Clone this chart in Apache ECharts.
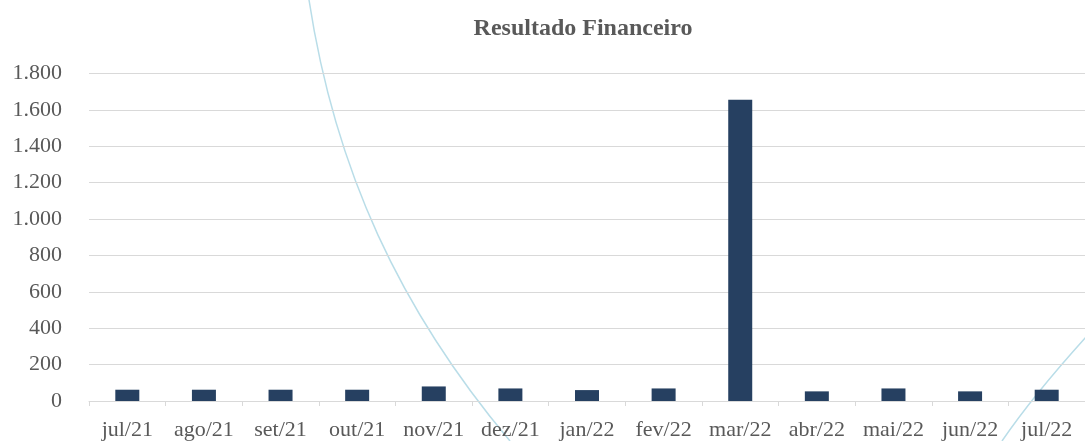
<!DOCTYPE html>
<html>
<head>
<meta charset="utf-8">
<script src="https://cdn.jsdelivr.net/npm/echarts@6/dist/echarts.min.js"></script>
<style>
  html, body { margin: 0; padding: 0; background: #fff; }
  #container { width: 1085px; height: 441px; }
</style>
</head>
<body>
<div id="container"></div>
<script>
// meses e valores do resultado financeiro
var meses = ['jul/21', 'ago/21', 'set/21', 'out/21', 'nov/21', 'dez/21', 'jan/22',
             'fev/22', 'mar/22', 'abr/22', 'mai/22', 'jun/22', 'jul/22'];
var resultado = [62, 62, 62, 62, 80, 69, 60, 69, 1656, 53, 69, 53, 62];

var dom = document.getElementById('container');
var myChart = echarts.init(dom);

var fonte = '"Liberation Serif", "DejaVu Serif", serif';

function milhar(v) {
    return String(v).replace(/\B(?=(\d{3})+(?!\d))/g, '.');
}

var option = {
    backgroundColor: '#fff',
    animation: false,
    title: {
        text: 'Resultado Financeiro',
        left: 578,
        textAlign: 'center',
        top: 12,
        textStyle: {
            color: '#595959',
            fontFamily: fonte,
            fontWeight: 'bold',
            fontSize: 24
        }
    },
    grid: {
        left: 89,
        width: 1002,
        top: 73.5,
        height: 329.2
    },
    xAxis: {
        type: 'category',
        data: meses,
        axisLine: { lineStyle: { color: '#d9d9d9', width: 1 } },
        axisTick: { show: true, length: 5, lineStyle: { color: '#d9d9d9' } },
        axisLabel: {
            color: '#595959',
            fontFamily: fonte,
            fontSize: 22,
            margin: 18,
            interval: 0
        }
    },
    yAxis: {
        type: 'value',
        min: 0,
        max: 1800,
        interval: 200,
        axisLine: { show: false },
        axisTick: { show: false },
        splitLine: { lineStyle: { color: '#d9d9d9', width: 1 } },
        axisLabel: {
            color: '#595959',
            fontFamily: fonte,
            fontSize: 22,
            margin: 27,
            formatter: milhar
        }
    },
    graphic: [
        {
            type: 'bezierCurve',
            silent: true,
            z: -1,
            shape: { x1: 309, y1: 0, cpx1: 335, cpy1: 170, cpx2: 400, cpy2: 310, x2: 510, y2: 441 },
            style: { stroke: '#b9dde8', lineWidth: 1.5, fill: null }
        },
        {
            type: 'bezierCurve',
            silent: true,
            z: -1,
            shape: { x1: 1002, y1: 441, cpx1: 1030, cpy1: 400, cpx2: 1058, cpy2: 368, x2: 1086, y2: 337 },
            style: { stroke: '#b9dde8', lineWidth: 1.5, fill: null }
        }
    ],
    series: [
        {
            name: 'Resultado Financeiro',
            type: 'bar',
            data: resultado,
            barWidth: 24,
            itemStyle: { color: '#264061' }
        }
    ]
};

myChart.setOption(option, true);
</script>
</body>
</html>
